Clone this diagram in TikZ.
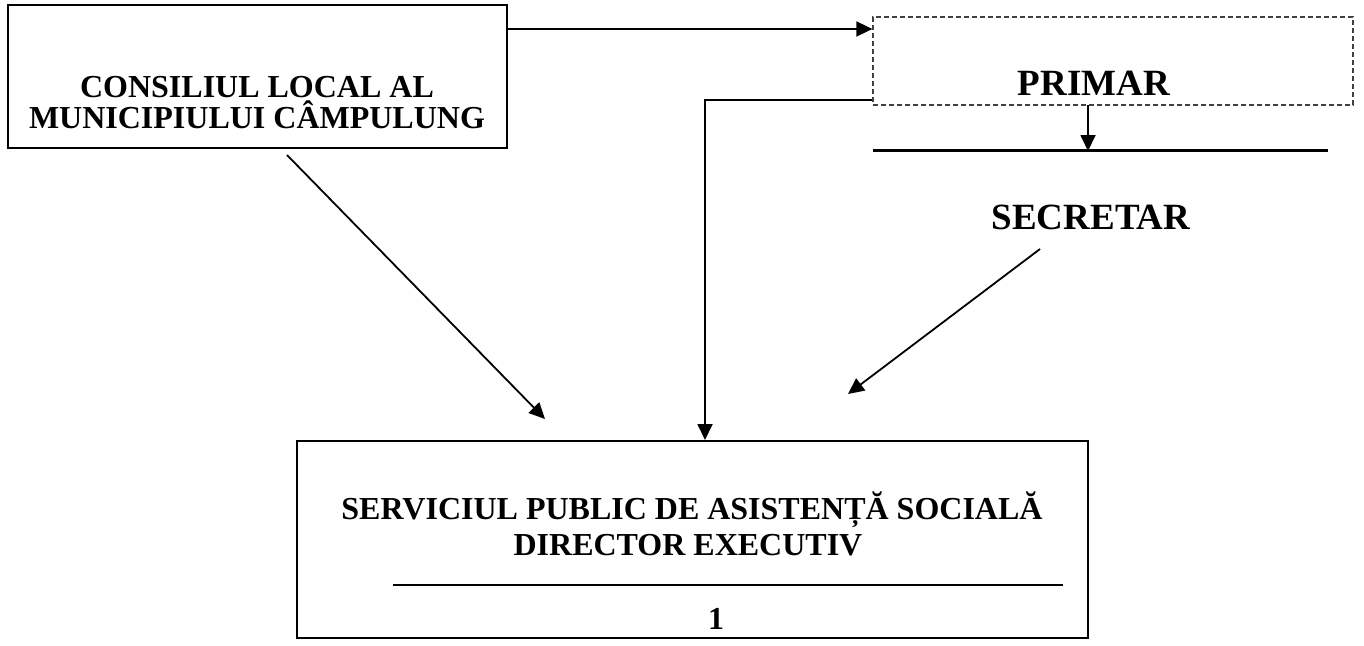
\documentclass[tikz,border=0pt]{standalone}
\usepackage{fontspec}
\setmainfont{Liberation Serif}
\usetikzlibrary{arrows.meta}
\tikzset{
  boxshape/.style={draw=black, line width=2pt, inner sep=0pt, rectangle},
  dashbox/.style={draw=black!75, line width=1.3pt, dash pattern=on 5pt off 3pt, inner sep=0pt, rectangle},
  lbl/.style={anchor=base, inner sep=0pt, font=\bfseries\fontsize{32}{36}\selectfont},
  biglbl/.style={anchor=base, inner sep=0pt, font=\bfseries\fontsize{37}{40}\selectfont},
  conn/.style={line width=1.8pt, -{Triangle[length=16pt,width=15pt]}},
  rule/.style={line width=2pt}
}
\begin{document}
\begin{tikzpicture}[x=1pt,y=-1pt]
\useasboundingbox (0,0) rectangle (1364,645);
% boxes
\node[boxshape, minimum width=499pt, minimum height=143pt] (cons) at (257.5,76.5) {};
\node[dashbox, minimum width=480pt, minimum height=88pt] (primar) at (1113,61) {};
\node[boxshape, minimum width=791pt, minimum height=197pt] (serv) at (692.5,539.5) {};
% texts
\node[lbl] (cons1) at (257,97) {CONSILIUL LOCAL AL};
\node[lbl] (cons2) at (257,128) {MUNICIPIULUI CÂMPULUNG};
\node[biglbl] (primart) at (1094,95) {PRIMAR};
\node[biglbl] (secr) at (1091,229) {SECRETAR};
\node[lbl] (serv1) at (692,519) {SERVICIUL PUBLIC DE ASISTENȚĂ SOCIALĂ};
\node[lbl] (serv2) at (688,555) {DIRECTOR EXECUTIV};
\node[lbl] (num) at (716,629) {1};
% rules
\coordinate (pl) at (873,150);
\coordinate (pr) at (1328,150);
\draw[line width=3pt] (pl) -- (pr);
\coordinate (sl) at (393,585);
\coordinate (sr) at (1063,585);
\draw[rule] (sl) -- (sr);
% connectors
\draw[conn] (cons.east |- 0,29) -- (primar.west |- 0,29);
\draw[conn] (primar.west |- 0,100) -- (705,100) -- (705,440);
\draw[conn] (1088,105) -- (1088,151);
\coordinate (d1s) at (287,155);
\coordinate (d1e) at (545,419);
\draw[conn] (d1s) -- (d1e);
\coordinate (d2s) at (1040,249);
\coordinate (d2e) at (848,394);
\draw[conn] (d2s) -- (d2e);
\end{tikzpicture}
\end{document}
